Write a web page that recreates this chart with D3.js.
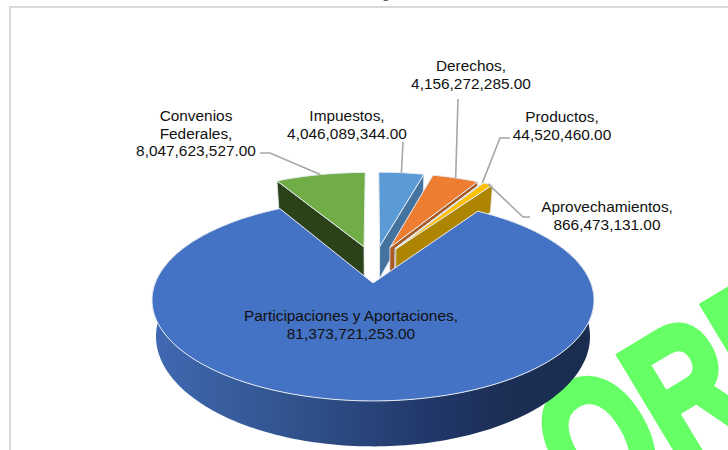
<!DOCTYPE html>
<html>
<head>
<meta charset="utf-8">
<script src="https://cdn.jsdelivr.net/npm/d3@7"></script>
<style>
html,body{margin:0;padding:0;background:#fff}
svg{display:block}
text{font-family:"Liberation Sans",Arial,sans-serif}
</style>
</head>
<body>
<svg id="chart" width="728" height="450"></svg>
<script>
// Revenue sources, clockwise from twelve o'clock
const categories = ["Impuestos", "Derechos", "Productos", "Aprovechamientos", "Participaciones y Aportaciones", "Convenios Federales"];
const amounts = [4046089344, 4156272285, 44520460, 866473131, 81373721253, 8047623527];
const topColors = ["#5b9bd5", "#ed7d31", "#a5a5a5", "#ffc000", "#4472c4", "#70ad47"];
const wallColors = ["#44739f", "#a85a25", "#7c7c7c", "#ad8500", "url(#blueWall)", "#2b4219"];

// Label placement: centre x, first baseline, line breaks, leader elbow
const labelLayout = [
  {x:347, y:121, lines:["Impuestos,","4,046,089,344.00"], leader:[[403,142]]},
  {x:471, y:71,  lines:["Derechos,","4,156,272,285.00"], leader:[[458,99]]},
  {x:562, y:122, lines:["Productos,","44,520,460.00"], leader:[[510,138],[500,138]]},
  {x:607, y:212, lines:["Aprovechamientos,","866,473,131.00"], leader:[[530,217],[523,217]]},
  {x:351, y:321, lines:["Participaciones y Aportaciones,","81,373,721,253.00"], leader:null},
  {x:196, y:121, lines:["Convenios","Federales,","8,047,623,527.00"], leader:[[260,153],[270,153]]}
];

const svg = d3.select("#chart");
const fmt = d3.format(",.2f");

// Perspective model of the tilted disc (unit radius ground plane)
const anchor = {x:373, y:283}, sx = 217.8, sy = 98, persp = 0.169;
const explode = 0.2, depth = 35, depthPersp = 0.23, taper = 0.982;
const project = (X, Y) => {
  const w = 1 + persp * Y;
  return [anchor.x + sx * X / w, anchor.y - sy * Y / w];
};
const drop = (X, Y) => {
  const [px, py] = project(X, Y);
  return [anchor.x + (px - anchor.x) * taper, py + depth / (1 + depthPersp * Y)];
};

const arcs = d3.pie().sort(null).value(d => d)(amounts);
const mid = a => (a.startAngle + a.endAngle) / 2;
const mainMid = mid(arcs[4]);
const hub = a => [
  explode * (Math.sin(mid(a)) - Math.sin(mainMid)),
  explode * (Math.cos(mid(a)) - Math.cos(mainMid))
];
const rim = (a, t) => {
  const [hx, hy] = hub(a);
  return [hx + Math.sin(t), hy + Math.cos(t)];
};
const sampleAngles = (a0, a1) => {
  const n = Math.max(2, Math.ceil((a1 - a0) / 0.02));
  return d3.range(n + 1).map(i => a0 + (a1 - a0) * i / n);
};
const line = d3.line();

const defs = svg.append("defs");
const grad = defs.append("linearGradient").attr("id", "blueWall")
  .attr("gradientUnits", "userSpaceOnUse")
  .attr("x1", 153).attr("x2", 596).attr("y1", 0).attr("y2", 0);
[[0, "#4069b2"], [0.33, "#30528c"], [0.62, "#22386a"], [0.8, "#1b2e54"], [1, "#1a2d50"]]
  .forEach(([o, c]) => grad.append("stop").attr("offset", o).attr("stop-color", c));

// Diagonal stamp across the lower right corner, behind the chart
svg.append("text")
  .attr("transform", "translate(586,521) rotate(-31) scale(0.75,1)")
  .attr("font-size", 180).attr("font-weight", 700).attr("fill", "#66ff66")
  .attr("stroke", "#66ff66").attr("stroke-width", 8).attr("stroke-linejoin", "miter")
  .text("ORD");

// Chart frame and the caption above it
svg.append("text").attr("x", 386).attr("y", -2).attr("text-anchor", "middle")
  .attr("font-size", 15).attr("fill", "#595959").text("g");
svg.append("path").attr("d", "M10,450V7H728").attr("fill", "none")
  .attr("stroke", "#d9d9d9").attr("stroke-width", 2);

const drawOrder = [5, 0, 1, 2, 3, 4];
const edge = "#e8edf4";

drawOrder.forEach(i => {
  const a = arcs[i];
  const [hx, hy] = hub(a);
  const g = svg.append("g").attr("class", "slice");
  const angles = sampleAngles(a.startAngle, a.endAngle);
  const outer = angles.map(t => rim(a, t));

  // Radial wall facing the viewer: leading side of the right slices, trailing side of the left one
  if (i !== 4) {
    const t = i === 5 ? a.startAngle : a.endAngle;
    const r = rim(a, t);
    g.append("path")
      .attr("d", line([project(hx, hy), project(...r), drop(...r), drop(hx, hy)]) + "Z")
      .attr("fill", wallColors[i]).attr("stroke", edge).attr("stroke-width", 0.8);
  } else {
    // Curved outer wall of the large slice
    const front = outer.filter(([, Y]) => Y < 0.75);
    const poly = front.map(p => project(...p)).concat(front.slice().reverse().map(p => drop(...p)));
    g.append("path").attr("d", line(poly) + "Z").attr("fill", wallColors[i]);
  }

  // Top face
  const face = [project(hx, hy)].concat(outer.map(p => project(...p)));
  g.append("path").attr("d", line(face) + "Z")
    .attr("fill", topColors[i]).attr("stroke", edge).attr("stroke-width", 1);
});

// Leader lines from each label to the rim of its slice
labelLayout.forEach((l, i) => {
  if (!l.leader) return;
  const a = arcs[i];
  const tip = project(...rim(a, mid(a)));
  svg.append("path").attr("d", line(l.leader.concat([tip])))
    .attr("fill", "none").attr("stroke", "#a6a6a6").attr("stroke-width", 1.6);
});

// Value labels
labelLayout.forEach((l, i) => {
  const t = svg.append("text").attr("text-anchor", "middle")
    .attr("font-size", 15.4).attr("fill", "#111");
  const stated = fmt(amounts[i]);
  const lines = l.lines.map((s, k) => k === l.lines.length - 1 ? stated : s);
  lines.forEach((s, k) => t.append("tspan").attr("x", l.x).attr("y", l.y + k * 17.6).text(s));
});
</script>
</body>
</html>
